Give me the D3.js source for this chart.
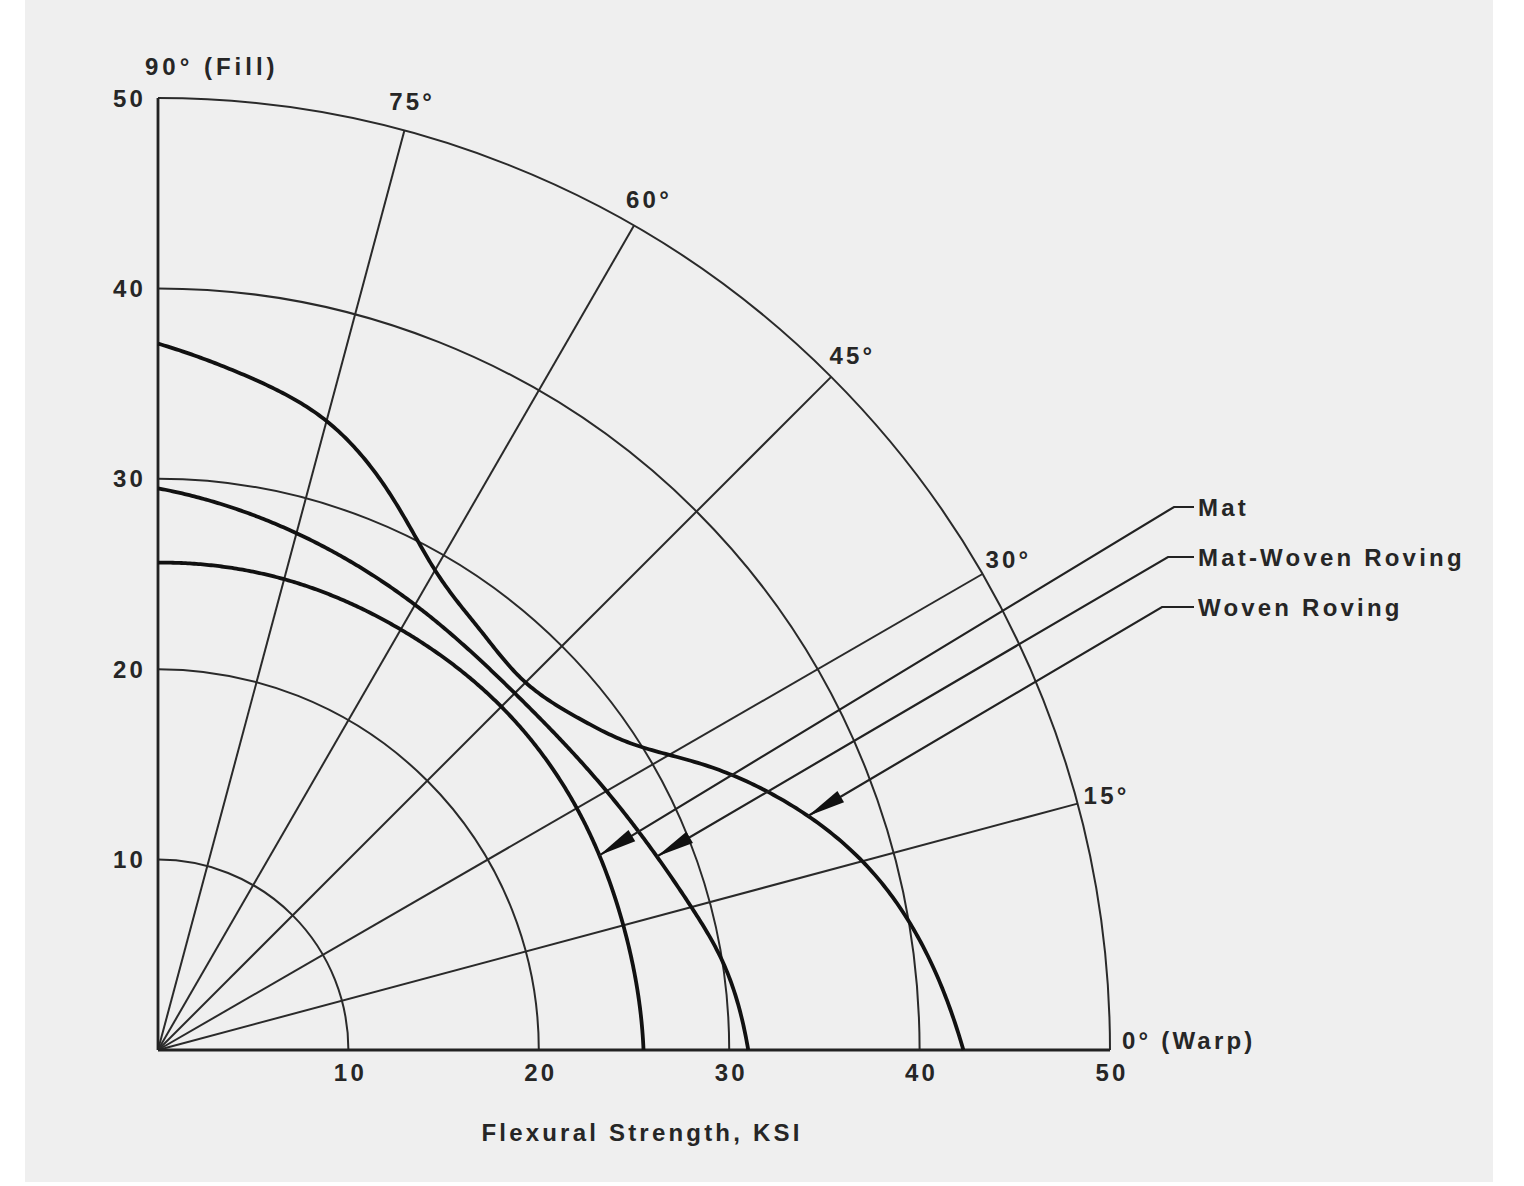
<!DOCTYPE html>
<html>
<head>
<meta charset="utf-8">
<script src="https://cdn.jsdelivr.net/npm/d3@7"></script>
<style>
  body { margin: 0; background: #fff; }
  text { font-family: "Liberation Sans", Arial, sans-serif; font-weight: bold; fill: #262626; }
</style>
</head>
<body>
<div id="chart"></div>
<script>
// grid
var radiusTicks = [10, 20, 30, 40, 50];
var angleTicks = [15, 30, 45, 60, 75];

// flexural strength (KSI) by fibre angle (deg)
var matAngles = [90, 75, 60, 45, 30, 15, 0];
var matValues = [25.6, 25.6, 25.5, 25.5, 25.4, 25.3, 25.5];

var mwrAngles = [90, 75, 60, 45, 30, 15, 9, 0];
var mwrValues = [29.5, 28.1, 27.0, 26.5, 27.2, 29.0, 30.0, 31.0];

var wrAngles = [90, 82.5, 75, 67.5, 60, 52.5, 45, 37.5, 32, 27.5, 22.5, 15, 7.5, 0];
var wrValues = [37.1, 35.7, 34.2, 31.7, 29.1, 27.8, 27.3, 28.3, 30.0, 32.4, 35.0, 38.3, 40.6, 42.3];

var seriesNames = ["Mat", "Mat-Woven Roving", "Woven Roving"];
// angle where each legend pointer meets its curve
var pointerAngles = [23.8, 21.2, 19.8];

// natural cubic spline of r over angle, through the read values
function spline(angles, values) {
    var pts = angles.map(function(a, i) { return [a, values[i]]; })
        .sort(function(p, q) { return p[0] - q[0]; });
    var n = pts.length;
    var x = pts.map(function(p) { return p[0]; });
    var y = pts.map(function(p) { return p[1]; });
    var hh = [];
    for (var i = 0; i < n - 1; i++) hh.push(x[i + 1] - x[i]);
    // tridiagonal solve for second derivatives
    var M = new Array(n).fill(0);
    var a = [], b = [], c = [], d = [];
    for (var i = 1; i < n - 1; i++) {
        a.push(hh[i - 1]);
        b.push(2 * (hh[i - 1] + hh[i]));
        c.push(hh[i]);
        d.push(6 * ((y[i + 1] - y[i]) / hh[i] - (y[i] - y[i - 1]) / hh[i - 1]));
    }
    var m = b.length;
    for (var i = 1; i < m; i++) {
        var k = a[i] / b[i - 1];
        b[i] -= k * c[i - 1];
        d[i] -= k * d[i - 1];
    }
    var sol = new Array(m);
    for (var i = m - 1; i >= 0; i--) {
        sol[i] = (d[i] - (i < m - 1 ? c[i] * sol[i + 1] : 0)) / b[i];
    }
    for (var i = 0; i < m; i++) M[i + 1] = sol[i];

    return function(t) {
        var k = 0;
        while (k < n - 2 && t > x[k + 1]) k++;
        var h = hh[k];
        var A = x[k + 1] - t, B = t - x[k];
        return M[k] * A * A * A / (6 * h) + M[k + 1] * B * B * B / (6 * h) +
            (y[k] / h - M[k] * h / 6) * A + (y[k + 1] / h - M[k + 1] * h / 6) * B;
    };
}

function init() {
    var w = 1524;
    var h = 1186;
    var cx = 158;
    var cy = 1050;

    var r = d3.scaleLinear().domain([0, 50]).range([0, 952]);
    var R = r(50);
    var rad = function(deg) { return deg * Math.PI / 180; };
    var pt = function(deg, v) {
        return [cx + r(v) * Math.cos(rad(deg)), cy - r(v) * Math.sin(rad(deg))];
    };

    var svg = d3.select("#chart")
        .append("svg")
        .attr("width", w)
        .attr("height", h);

    // scanned page
    svg.append("rect")
        .attr("x", 25).attr("y", 0)
        .attr("width", 1468).attr("height", 1182)
        .attr("fill", "#efefef");

    var g = svg.append("g");

    // range circles
    g.selectAll("path.ring")
        .data(radiusTicks)
        .enter()
        .append("path")
        .attr("class", "ring")
        .attr("transform", "translate(" + cx + "," + cy + ")")
        .attr("d", function(d) {
            return d3.arc()({innerRadius: r(d), outerRadius: r(d), startAngle: 0, endAngle: Math.PI / 2});
        })
        .attr("fill", "none")
        .attr("stroke", "#2a2a2a")
        .attr("stroke-width", 2);

    // radial lines
    g.selectAll("line.spoke")
        .data(angleTicks)
        .enter()
        .append("line")
        .attr("class", "spoke")
        .attr("x1", cx).attr("y1", cy)
        .attr("x2", function(d) { return pt(d, 50)[0]; })
        .attr("y2", function(d) { return pt(d, 50)[1]; })
        .attr("stroke", "#2a2a2a")
        .attr("stroke-width", 2);

    // axes
    g.append("line")
        .attr("x1", cx).attr("y1", cy).attr("x2", cx + R).attr("y2", cy)
        .attr("stroke", "#222").attr("stroke-width", 2.8);
    g.append("line")
        .attr("x1", cx).attr("y1", cy).attr("x2", cx).attr("y2", cy - R)
        .attr("stroke", "#222").attr("stroke-width", 2.8);

    var labelStyle = function(sel) {
        sel.style("font-size", "24px").style("letter-spacing", "3.2px");
    };

    // tick labels
    g.selectAll("text.ytick")
        .data(radiusTicks)
        .enter()
        .append("text")
        .attr("class", "ytick")
        .attr("x", cx - 12)
        .attr("y", function(d) { return cy - r(d); })
        .attr("dy", "0.36em")
        .attr("text-anchor", "end")
        .call(labelStyle)
        .text(function(d) { return d; });

    g.selectAll("text.xtick")
        .data(radiusTicks)
        .enter()
        .append("text")
        .attr("class", "xtick")
        .attr("x", function(d) { return cx + r(d) + 2; })
        .attr("y", cy + 31)
        .attr("text-anchor", "middle")
        .call(labelStyle)
        .text(function(d) { return d; });

    g.selectAll("text.atick")
        .data(angleTicks)
        .enter()
        .append("text")
        .attr("class", "atick")
        .attr("x", function(d) { return cx + (R + 30) * Math.cos(rad(d)); })
        .attr("y", function(d) { return cy - (R + 30) * Math.sin(rad(d)); })
        .attr("dy", "0.36em")
        .attr("text-anchor", "middle")
        .call(labelStyle)
        .text(function(d) { return d + "°"; });

    g.append("text")
        .attr("x", cx - 13)
        .attr("y", cy - R - 23)
        .call(labelStyle)
        .style("letter-spacing", "4px")
        .text("90° (Fill)");

    g.append("text")
        .attr("x", cx + R + 12)
        .attr("y", cy - 1)
        .call(labelStyle)
        .text("0° (Warp)");

    g.append("text")
        .attr("x", cx + R / 2 + 8)
        .attr("y", cy + 91)
        .attr("text-anchor", "middle")
        .call(labelStyle)
        .text("Flexural Strength, KSI");

    // curves
    var series = [
        {name: seriesNames[0], f: spline(matAngles, matValues)},
        {name: seriesNames[1], f: spline(mwrAngles, mwrValues)},
        {name: seriesNames[2], f: spline(wrAngles, wrValues)}
    ];

    var line = d3.lineRadial()
        .angle(function(d) { return rad(90 - d[0]); })
        .radius(function(d) { return r(d[1]); });

    var steps = d3.range(0, 90.001, 0.25);

    g.selectAll("path.curve")
        .data(series)
        .enter()
        .append("path")
        .attr("class", "curve")
        .attr("transform", "translate(" + cx + "," + cy + ")")
        .attr("d", function(d) {
            return line(steps.map(function(a) { return [a, d.f(a)]; }));
        })
        .attr("fill", "none")
        .attr("stroke", "#111")
        .attr("stroke-width", 3.8)
        .attr("stroke-linejoin", "round");

    // legend with pointers
    var legendX = 1198;
    series.forEach(function(d, i) {
        var tip = pt(pointerAngles[i], d.f(pointerAngles[i]));
        var tx = tip[0], ty = tip[1];
        var ly = 507 + i * 50;
        var kx = legendX - 24 - i * 6;

        g.append("text")
            .attr("x", legendX)
            .attr("y", ly)
            .attr("dy", "0.36em")
            .call(labelStyle)
            .text(d.name);

        g.append("polyline")
            .attr("points", [[legendX - 4, ly], [kx, ly], [tx, ty]].map(function(q) { return q.join(","); }).join(" "))
            .attr("fill", "none")
            .attr("stroke", "#222")
            .attr("stroke-width", 2.2);

        var dx = kx - tx, dy = ly - ty;
        var l = Math.sqrt(dx * dx + dy * dy);
        var ux = dx / l, uy = dy / l;
        var nx = -uy, ny = ux;
        var bx = tx + ux * 38, by = ty + uy * 38;
        g.append("path")
            .attr("d", "M" + tx + "," + ty +
                "L" + (bx + nx * 6.5) + "," + (by + ny * 6.5) +
                "L" + (bx - nx * 6.5) + "," + (by - ny * 6.5) + "Z")
            .attr("fill", "#111");
    });
}

window.onload = init;
</script>
</body>
</html>
